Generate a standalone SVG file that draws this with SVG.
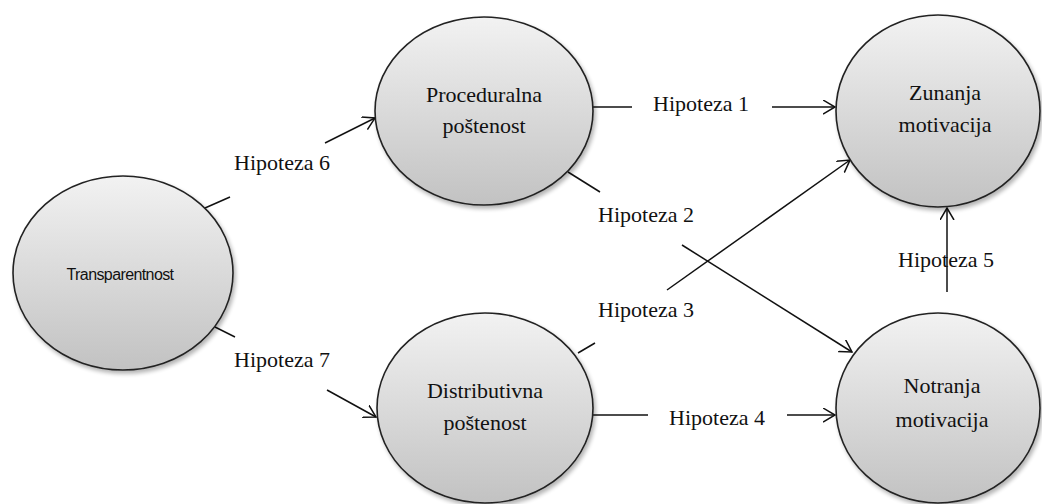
<svg xmlns="http://www.w3.org/2000/svg" width="1042" height="504" viewBox="0 0 1042 504">
  <defs>
    <linearGradient id="g" x1="0" y1="0" x2="0" y2="1">
      <stop offset="0" stop-color="#f2f2f2"/>
      <stop offset="1" stop-color="#c2c2c2"/>
    </linearGradient>
    <filter id="sh" x="-10%" y="-10%" width="125%" height="125%">
      <feGaussianBlur in="SourceAlpha" stdDeviation="2"/>
      <feOffset dx="2" dy="3" result="b"/>
      <feComponentTransfer><feFuncA type="linear" slope="0.3"/></feComponentTransfer>
      <feMerge><feMergeNode/><feMergeNode in="SourceGraphic"/></feMerge>
    </filter>
    <marker id="ah" markerUnits="userSpaceOnUse" markerWidth="16" markerHeight="16" refX="12" refY="7" orient="auto">
      <path d="M0,0 L12,7 L0,14" fill="none" stroke="#111" stroke-width="1.5"/>
    </marker>
  </defs>
  <style>
    .node { fill: url(#g); stroke: #222; stroke-width: 1.6; filter: url(#sh); }
    .nt { font-family: "Liberation Serif", serif; font-size: 22px; fill: #111; text-anchor: middle; }
    .lb { font-family: "Liberation Serif", serif; font-size: 22px; fill: #111; text-anchor: middle; }
    .c { stroke: #111; stroke-width: 1.5; fill: none; }
    .a { marker-end: url(#ah); }
  </style>
  <rect width="1042" height="504" fill="#fff"/>

  <g id="connectors">
    <line class="c" x1="593" y1="107" x2="632" y2="107"/>
    <line class="c a" x1="772" y1="107" x2="835" y2="107"/>
    <line class="c" x1="568" y1="172" x2="600" y2="192"/>
    <line class="c a" x1="682" y1="245" x2="852" y2="352"/>
    <line class="c" x1="578" y1="353" x2="595" y2="343"/>
    <line class="c a" x1="667" y1="290" x2="850" y2="160"/>
    <line class="c" x1="593" y1="415" x2="648" y2="415"/>
    <line class="c a" x1="787" y1="415" x2="835" y2="415"/>
    <line class="c a" x1="947" y1="292" x2="947" y2="208"/>
    <line class="c" x1="205" y1="208" x2="230" y2="197"/>
    <line class="c a" x1="325" y1="143" x2="375" y2="118"/>
    <line class="c" x1="215" y1="327" x2="235" y2="337"/>
    <line class="c a" x1="327" y1="390" x2="376" y2="417"/>
    <text class="lb" x="701" y="111">Hipoteza 1</text>
    <text class="lb" x="646" y="222">Hipoteza 2</text>
    <text class="lb" x="646" y="317">Hipoteza 3</text>
    <text class="lb" x="717" y="425">Hipoteza 4</text>
    <text class="lb" x="946" y="267">Hipoteza 5</text>
    <text class="lb" x="282" y="170">Hipoteza 6</text>
    <text class="lb" x="282" y="367">Hipoteza 7</text>
  </g>

  <g id="transparentnost">
    <ellipse class="node" cx="123" cy="273" rx="110" ry="97"/>
    <text x="120" y="280" font-family="Liberation Sans, sans-serif" font-size="16" fill="#111" text-anchor="middle" letter-spacing="-0.6">Transparentnost</text>
  </g>
  <g id="proceduralna">
    <ellipse class="node" cx="484" cy="111" rx="109" ry="94"/>
    <text class="nt" x="484" y="102">Proceduralna</text>
    <text class="nt" x="484" y="133">poštenost</text>
  </g>
  <g id="distributivna">
    <ellipse class="node" cx="485" cy="408" rx="108" ry="95"/>
    <text class="nt" x="485" y="398">Distributivna</text>
    <text class="nt" x="485" y="430">poštenost</text>
  </g>
  <g id="zunanja">
    <ellipse class="node" cx="938" cy="111" rx="102" ry="96"/>
    <text class="nt" x="945" y="100">Zunanja</text>
    <text class="nt" x="945" y="132">motivacija</text>
  </g>
  <g id="notranja">
    <ellipse class="node" cx="938" cy="408" rx="102" ry="95"/>
    <text class="nt" x="942" y="393">Notranja</text>
    <text class="nt" x="942" y="427">motivacija</text>
  </g>
</svg>
